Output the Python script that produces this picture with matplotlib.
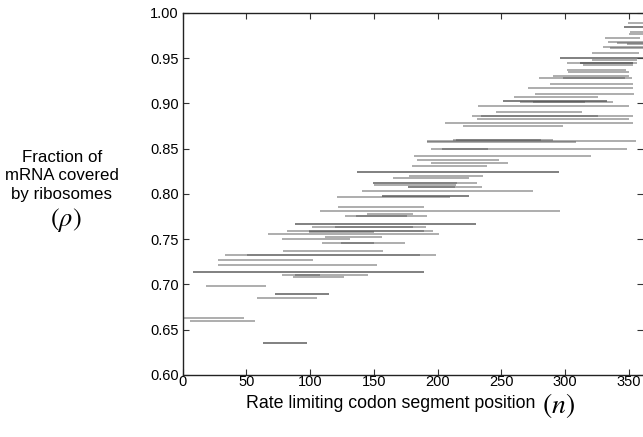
#!/usr/bin/env python3
"""Ribosome coverage vs rate limiting codon segment position."""

import matplotlib

matplotlib.use("Agg")
import matplotlib.pyplot as plt

plt.rcParams["font.family"] = ["Liberation Sans", "DejaVu Sans"]
plt.rcParams["mathtext.fontset"] = "stix"

# Each segment: coverage (rho), start position, end position
rho = [
    0.989, 0.984, 0.984, 0.979, 0.977, 0.972, 0.968, 0.967, 0.966, 0.962,
    0.961, 0.956, 0.950, 0.950, 0.948, 0.945, 0.944, 0.944, 0.942, 0.937,
    0.934, 0.930, 0.928, 0.928, 0.921, 0.917, 0.910, 0.907, 0.903, 0.903,
    0.901, 0.901, 0.897, 0.890, 0.886, 0.886, 0.883, 0.878, 0.875, 0.860,
    0.860, 0.858, 0.857, 0.849, 0.849, 0.842, 0.837, 0.834, 0.831, 0.824,
    0.824, 0.820, 0.818, 0.812, 0.812, 0.810, 0.8075, 0.8075, 0.803, 0.798,
    0.798, 0.796, 0.785, 0.781, 0.778, 0.7755, 0.7755, 0.767, 0.767, 0.7635,
    0.7635, 0.7595, 0.7595, 0.758, 0.7555, 0.752, 0.7498, 0.7455, 0.7455, 0.737,
    0.732, 0.732, 0.7265, 0.7215, 0.7133, 0.7133, 0.7107, 0.7107, 0.7078, 0.6986,
    0.689, 0.689, 0.6853, 0.663, 0.6597, 0.635, 0.635,
]
seg_start = [
    349.5, 346.1, 346.1, 350.8, 350.3, 331.2, 333.9, 340.4, 348.2, 329.9,
    335.2, 321.3, 295.9, 295.9, 320.7, 301.1, 311.6, 311.6, 314.2, 301.1,
    302.5, 290.7, 279.4, 298.5, 288.1, 271.1, 276.3, 260.1, 251.0, 251.0,
    264.6, 274.5, 231.8, 245.4, 227.1, 233.9, 231.0, 206.0, 220.1, 212.3,
    214.3, 191.4, 191.8, 194.7, 203.1, 181.7, 183.5, 194.7, 180.1, 136.5,
    136.5, 177.5, 165.2, 149.5, 149.5, 150.3, 176.7, 176.7, 140.9, 156.1,
    156.1, 120.7, 122.0, 107.7, 144.3, 127.3, 135.9, 88.1, 88.1, 101.7,
    119.4, 82.1, 99.1, 99.1, 67.2, 111.6, 77.6, 109.0, 124.2, 78.9,
    33.5, 50.2, 27.4, 27.9, 8.3, 8.3, 77.6, 88.1, 86.8, 18.3,
    72.4, 72.4, 58.0, 0.0, 5.7, 63.2, 63.2,
]
seg_end = [
    361.0, 361.0, 361.0, 361.0, 361.0, 358.7, 361.0, 361.0, 361.0, 361.0,
    361.0, 357.9, 361.0, 361.0, 356.0, 356.0, 353.4, 353.4, 353.4, 347.7,
    350.0, 350.0, 352.0, 347.0, 353.0, 353.4, 354.2, 326.0, 332.5, 332.5,
    337.3, 315.6, 350.2, 313.4, 353.4, 326.0, 350.2, 353.4, 298.0, 290.7,
    280.7, 355.3, 308.2, 348.2, 239.7, 320.0, 248.3, 254.9, 239.0, 295.4,
    295.4, 235.8, 224.8, 230.5, 215.4, 214.3, 234.5, 213.5, 275.0, 224.8,
    224.8, 209.9, 189.4, 295.9, 180.9, 191.3, 176.2, 230.0, 230.0, 190.8,
    180.9, 196.6, 189.5, 150.1, 201.0, 156.0, 131.2, 174.1, 150.3, 156.8,
    198.7, 186.1, 102.5, 152.6, 189.3, 189.3, 145.6, 107.7, 126.8, 65.1,
    115.0, 115.0, 105.1, 48.3, 56.7, 97.2, 97.2,
]

x_ticks = [0, 50, 100, 150, 200, 250, 300, 350]
y_ticks = [0.60, 0.65, 0.70, 0.75, 0.80, 0.85, 0.90, 0.95, 1.00]


def main() -> None:
    fig = plt.figure(figsize=(6.43, 4.37), dpi=100)
    ax = fig.add_axes([0.2841, 0.1419, 0.7159, 0.829])

    ax.hlines(rho, seg_start, seg_end, colors="#505050", alpha=0.5, lw=1.3)

    ax.set_xlim(0, 361)
    ax.set_ylim(0.60, 1.00)
    ax.set_xticks(x_ticks)
    ax.set_yticks(y_ticks)
    ax.set_yticklabels([f"{v:.2f}" for v in y_ticks])
    ax.tick_params(direction="in", top=True, right=True, length=4,
                   labelsize=10.5, width=0.8, color="#333333")
    ax.tick_params(axis="x", pad=0)
    ax.tick_params(axis="y", pad=3)
    ax.spines["right"].set_visible(False)
    for side in ("left", "bottom", "top"):
        ax.spines[side].set_linewidth(1.0)
        ax.spines[side].set_color("#222222")

    # y label, placed by hand to the left of the tick labels
    fig.text(62 / 643, 1 - 176 / 437, "Fraction of\nmRNA covered\nby ribosomes",
             ha="center", va="center", fontsize=12.2, linespacing=1.25)
    fig.text(66 / 643, 1 - 220 / 437, r"$(\rho)$", ha="center", va="center",
             fontsize=19)

    # x label, with a larger italic n
    fig.text(535 / 643, 1 - 403 / 437, "Rate limiting codon segment position",
             ha="right", va="center", fontsize=12.8)
    fig.text(542 / 643, 1 - 405 / 437, r"$(n)$", ha="left", va="center",
             fontsize=20)

    fig.savefig("out.png", dpi=100)
    plt.close(fig)


if __name__ == "__main__":
    main()
